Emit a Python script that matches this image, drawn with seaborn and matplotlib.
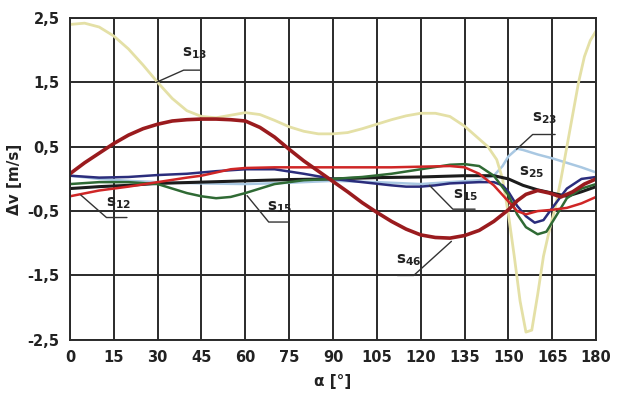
import numpy as np
import pandas as pd
import matplotlib
matplotlib.use("Agg")
import matplotlib.pyplot as plt
import seaborn as sns

# ---- data ----
x_s13 = [0, 5, 10, 15, 20, 25, 30, 35, 40, 45, 50, 55, 60, 65, 70, 75, 80, 85, 90, 95, 100, 105, 110, 115, 120,
         125, 130, 135, 140, 143, 146, 148, 150, 152, 154, 156, 158, 160, 162, 164, 166, 168, 170, 172, 174, 176, 178, 180]
v_s13 = [2.40, 2.42, 2.36, 2.22, 2.02, 1.77, 1.50, 1.25, 1.06, 0.97, 0.95, 0.99, 1.03, 1.00, 0.91, 0.81, 0.74, 0.70, 0.70, 0.72,
         0.78, 0.85, 0.92, 0.98, 1.02, 1.02, 0.97, 0.82, 0.62, 0.50, 0.30, 0.00, -0.55, -1.20, -1.90, -2.38, -2.35, -1.80,
         -1.20, -0.80, -0.45, 0.00, 0.50, 1.00, 1.50, 1.90, 2.15, 2.30]

x_s46 = [0, 5, 10, 15, 20, 25, 30, 35, 40, 45, 50, 55, 60, 65, 70, 75, 80, 85, 90, 95, 100, 105, 110, 115, 120, 125,
         130, 135, 140, 145, 150, 153, 156, 160, 164, 168, 172, 176, 180]
v_s46 = [0.08, 0.25, 0.40, 0.55, 0.68, 0.78, 0.85, 0.90, 0.92, 0.93, 0.93, 0.92, 0.90, 0.80, 0.65, 0.46, 0.28, 0.12, -0.04,
         -0.20, -0.37, -0.52, -0.66, -0.78, -0.87, -0.91, -0.92, -0.88, -0.80, -0.66, -0.48, -0.34, -0.24, -0.18, -0.22,
         -0.28, -0.20, -0.08, 0.00]

x_s12 = [0, 10, 15, 20, 30, 40, 45, 50, 55, 60, 70, 80, 90, 100, 110, 120, 130, 135, 140, 145, 150, 153, 156, 160,
         165, 170, 175, 180]
v_s12 = [-0.27, -0.18, -0.15, -0.12, -0.05, 0.02, 0.05, 0.10, 0.15, 0.17, 0.18, 0.18, 0.18, 0.18, 0.18, 0.19, 0.20,
         0.18, 0.08, -0.10, -0.35, -0.50, -0.55, -0.50, -0.48, -0.45, -0.38, -0.28]

x_s15a = [0, 10, 20, 30, 35, 40, 45, 50, 55, 60, 65, 70, 75, 80, 90, 100, 110, 120, 130, 135, 140, 145, 150, 153, 156,
          160, 163, 166, 170, 175, 180]
v_s15a = [-0.08, -0.05, -0.05, -0.08, -0.15, -0.22, -0.27, -0.30, -0.28, -0.22, -0.15, -0.08, -0.05, -0.02, 0.00, 0.03,
          0.08, 0.15, 0.22, 0.23, 0.20, 0.05, -0.25, -0.55, -0.75, -0.86, -0.82, -0.60, -0.30, -0.15, -0.08]

x_s15b = [0, 10, 20, 30, 40, 50, 60, 70, 80, 90, 100, 110, 115, 120, 125, 130, 140, 145, 148, 150, 153, 156, 159, 162,
          165, 170, 175, 180]
v_s15b = [0.05, 0.02, 0.03, 0.06, 0.08, 0.12, 0.15, 0.15, 0.08, 0.00, -0.05, -0.10, -0.12, -0.12, -0.10, -0.07, -0.05,
          -0.05, -0.10, -0.20, -0.42, -0.58, -0.68, -0.64, -0.45, -0.15, 0.00, 0.03]

x_s25 = [0, 10, 20, 30, 45, 60, 75, 90, 105, 120, 135, 145, 150, 155, 160, 165, 170, 175, 180]
v_s25 = [-0.15, -0.12, -0.10, -0.07, -0.05, -0.03, -0.01, 0.00, 0.02, 0.03, 0.05, 0.05, 0.00, -0.10, -0.17, -0.22,
         -0.27, -0.20, -0.12]

x_s23 = [0, 10, 20, 30, 45, 60, 75, 90, 105, 120, 130, 140, 145, 148, 150, 153, 155, 160, 165, 170, 175, 180]
v_s23 = [0.05, 0.00, -0.03, -0.05, -0.07, -0.08, -0.06, -0.03, -0.05, -0.08, -0.05, -0.02, 0.05, 0.20, 0.35, 0.47,
         0.45, 0.38, 0.32, 0.25, 0.18, 0.10]

x_ticks = list(range(0, 181, 15))
y_ticks = [2.5, 1.5, 0.5, -0.5, -1.5, -2.5]
y_ticklabels = ["2,5", "1,5", "0,5", "-0,5", "-1,5", "-2,5"]

# ---- style ----
sns.set_theme(style="white")
plt.rcParams['font.family'] = ['Liberation Sans Narrow', 'DejaVu Sans']

fig = plt.figure(figsize=(6.19, 4.19), dpi=100)
ax = fig.add_axes([0.113, 0.189, 0.850, 0.768])

series = [
    (x_s23, v_s23, "#a9c8e2", 1.8),
    (x_s13, v_s13, "#e4e0a6", 2.0),
    (x_s25, v_s25, "#1c1c1c", 2.2),
    (x_s15b, v_s15b, "#2b2d7c", 1.8),
    (x_s15a, v_s15a, "#2f6a34", 1.8),
    (x_s12, v_s12, "#cf2626", 1.8),
    (x_s46, v_s46, "#9a1b1e", 2.6),
]
for xs, vs, col, lw in series:
    sns.lineplot(x=xs, y=vs, ax=ax, color=col, linewidth=lw, sort=False)

ax.set_xlim(0, 180)
ax.set_ylim(-2.5, 2.5)
ax.set_xticks(x_ticks)
ax.set_xticklabels([str(t) for t in x_ticks])
ax.set_yticks(y_ticks)
ax.set_yticklabels(y_ticklabels)
ax.grid(True, color="#2a2a2a", linewidth=1.4)
ax.set_axisbelow(True)
for s in ax.spines.values():
    s.set_color("#2a2a2a")
    s.set_linewidth(1.4)
ax.tick_params(axis="both", which="both", length=4, width=1.2, color="#2a2a2a",
               labelsize=10.5, labelcolor="#222222", direction="out")
for lab in ax.get_xticklabels() + ax.get_yticklabels():
    lab.set_fontweight("bold")
ax.set_xlabel("α [°]", fontsize=11, fontweight="bold", color="#222222", labelpad=6)
ax.set_ylabel("Δv [m/s]", fontsize=11, fontweight="bold", color="#222222", labelpad=4)

# ---- labels with leader lines ----
labels = [
    ("13", (29.5, 1.50), (38.9, 1.69), (44.5, 1.69), (38.5, 1.95)),
    ("23", (152.8, 0.46), (158.3, 0.69), (166.0, 0.69), (158.0, 0.94)),
    ("12", (3.7, -0.25), (12.5, -0.60), (19.5, -0.60), (12.5, -0.38)),
    ("15", (60.6, -0.26), (68.0, -0.67), (74.5, -0.67), (67.5, -0.44)),
    ("15", (123.0, -0.10), (131.0, -0.47), (138.6, -0.47), (131.0, -0.25)),
    ("46", (130.5, -0.97), (117.6, -1.50), (112.0, -1.50), (111.5, -1.27)),
]
for sub, p0, p1, p2, tp in labels:
    ax.plot([p0[0], p1[0], p2[0]], [p0[1], p1[1], p2[1]], color="#333333", linewidth=1.0)
    ax.text(tp[0], tp[1], r"$\mathbf{s}_{\mathbf{" + sub + "}}$", fontsize=11, color="#222222",
            ha="left", va="center")
ax.text(153.5, 0.10, r"$\mathbf{s}_{\mathbf{25}}$", fontsize=11, color="#222222", ha="left", va="center")

fig.savefig("out.png", dpi=100, facecolor="white")
